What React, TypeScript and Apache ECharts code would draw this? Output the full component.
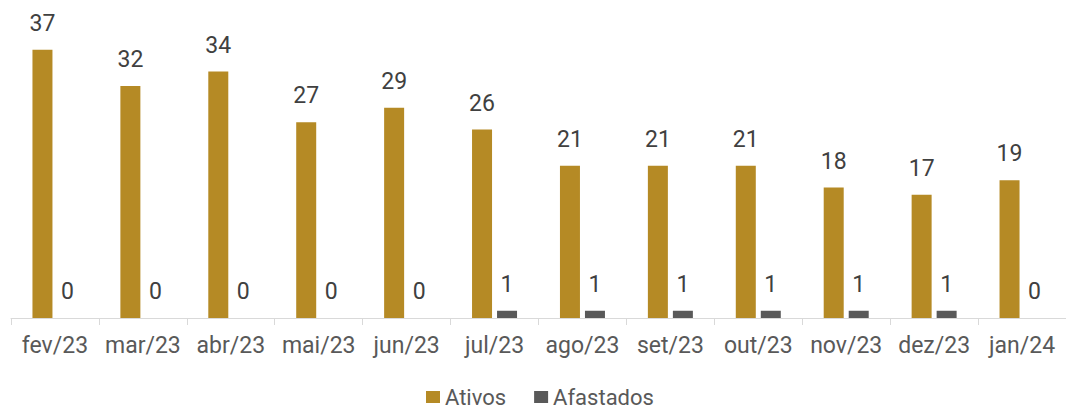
import React, { useEffect, useRef } from "react";
import * as echarts from "echarts";

const categories = ["fev/23", "mar/23", "abr/23", "mai/23", "jun/23", "jul/23", "ago/23", "set/23", "out/23", "nov/23", "dez/23", "jan/24"];
const ativos = [37, 32, 34, 27, 29, 26, 21, 21, 21, 18, 17, 19];
const afastados = [0, 0, 0, 0, 0, 1, 1, 1, 1, 1, 1, 0];

export default function App() {
  const ref = useRef<HTMLDivElement>(null);
  useEffect(() => {
    const chart = echarts.init(ref.current!, null, { renderer: "svg" });
    const font = "Roboto, 'Noto Sans', sans-serif";
    const label = {
      show: true,
      position: "top" as const,
      distance: 15,
      fontSize: 23,
      color: "#404040",
      fontFamily: font,
    };
    chart.setOption({
      animation: false,
      grid: { left: 11, right: 0, top: 28, bottom: 92 },
      legend: {
        top: 386,
        left: 426,
        padding: 0,
        itemWidth: 14,
        itemHeight: 12,
        itemGap: 28,
        icon: "rect",
        textStyle: { fontSize: 22, lineHeight: 22, color: "#595959", fontFamily: font },
        data: ["Ativos", "Afastados"],
      },
      xAxis: {
        type: "category",
        data: categories,
        axisLine: { lineStyle: { color: "#d9d9d9", width: 1 } },
        axisTick: { show: true, length: 7, lineStyle: { color: "#d9d9d9" } },
        axisLabel: { fontSize: 23, color: "#595959", fontFamily: font, margin: 16, interval: 0 },
      },
      yAxis: { type: "value", min: 0, max: 40, show: false, splitLine: { show: false } },
      series: [
        {
          name: "Ativos",
          type: "bar",
          data: ativos,
          barWidth: 20,
          barGap: "25%",
          itemStyle: { color: "#B58A25" },
          label,
        },
        {
          name: "Afastados",
          type: "bar",
          data: afastados,
          barWidth: 20,
          itemStyle: { color: "#595959" },
          label,
        },
      ],
    });
    return () => chart.dispose();
  }, []);
  return <div ref={ref} style={{ position: "absolute", left: 0, top: 0, width: 1066, height: 410 }} />;
}
